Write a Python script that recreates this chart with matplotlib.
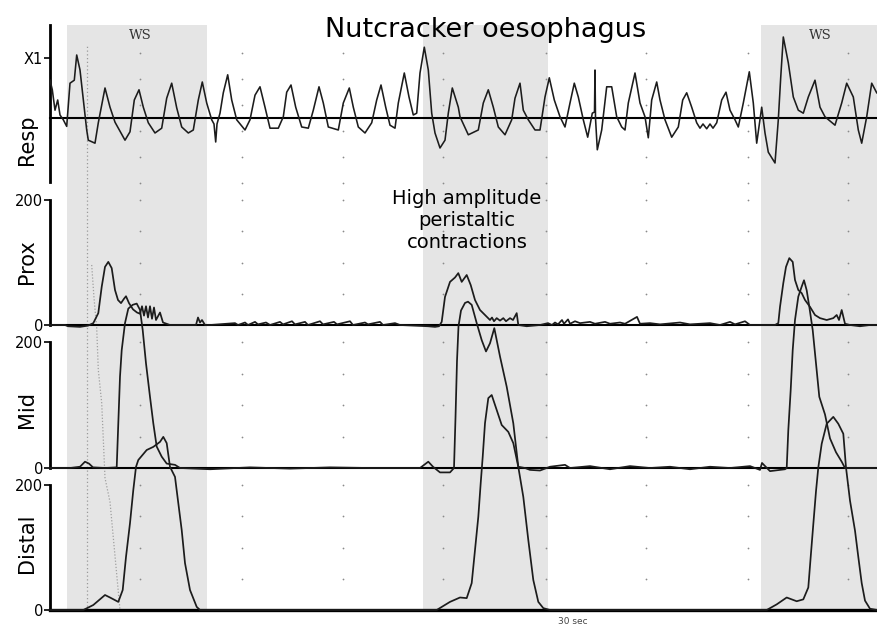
import matplotlib
matplotlib.use("Agg")
import matplotlib.pyplot as plt

# ---- time base (s) ----
T_MAX = 82.7
grid_t = [9.0, 19.2, 29.3, 39.3, 49.6, 59.6, 69.8, 79.8]

# wet swallow windows (s)
ws_start = [1.7, 37.3, 71.1]
ws_end = [15.7, 49.8, 82.7]
ws_label_t = [9.0, 77.0]
swallow_marker_t = [3.7]

# ---- respiration (relative units, X1 = 1) ----
resp_t = [0.0, 0.23, 0.5, 0.77, 1.0, 1.33, 1.67, 2.0, 2.43, 2.67, 3.0, 3.33, 3.67, 3.83, 4.5, 4.83,
          5.5, 6.0, 6.5, 7.5, 8.0, 8.43, 8.9, 9.33, 9.83, 10.5, 11.17, 11.67, 12.17, 12.67, 13.17,
          13.83, 14.33, 14.83, 15.23, 15.67, 16.17, 16.4, 16.57, 16.7, 17.0, 17.33, 17.77, 18.17,
          18.67, 19.5, 20.0, 20.5, 21.0, 21.5, 22.0, 22.83, 23.33, 23.67, 24.1, 24.57, 25.17, 25.83,
          26.33, 26.9, 27.33, 27.83, 28.83, 29.33, 29.93, 30.33, 30.83, 31.5, 32.17, 32.67, 33.1,
          33.57, 34.0, 34.5, 34.83, 35.43, 35.9, 36.33, 36.67, 37.0, 37.43, 37.83, 38.17, 38.5, 39.0,
          39.5, 39.83, 40.23, 40.83, 41.0, 41.83, 42.83, 43.33, 43.83, 44.33, 44.83, 45.5, 46.17,
          46.5, 47.0, 47.33, 47.83, 48.5, 49.0, 49.5, 49.93, 50.43, 51.0, 51.5, 52.0, 52.43, 52.83,
          53.33, 53.77, 54.23, 54.45, 54.5, 54.55, 54.73, 55.17, 55.67, 56.17, 56.67, 57.17, 57.5,
          57.83, 58.5, 59.0, 59.5, 59.83, 60.17, 60.67, 61.0, 61.5, 62.17, 62.83, 63.27, 63.67,
          64.17, 64.67, 65.0, 65.3, 65.67, 66.0, 66.3, 66.67, 67.17, 67.6, 68.0, 68.5, 68.83, 69.33,
          69.93, 70.33, 70.67, 71.17, 71.5, 71.83, 72.5, 72.83, 73.07, 73.33, 73.83, 74.33, 74.83,
          75.33, 75.83, 76.5, 77.0, 77.5, 78.0, 78.5, 79.17, 79.67, 80.33, 80.83, 81.17, 81.67,
          82.17, 82.67]
resp_v = [0.63, 0.47, 0.13, 0.3, 0.05, -0.03, -0.14, 0.58, 0.63, 1.05, 0.8, 0.3, -0.2, -0.37, -0.42, -0.08,
          0.5, 0.18, -0.07, -0.37, -0.23, 0.3, 0.47, 0.18, -0.08, -0.25, -0.17, 0.33, 0.58, 0.17, -0.15,
          -0.25, -0.2, 0.3, 0.6, 0.25, -0.03, -0.1, -0.4, -0.1, 0.08, 0.42, 0.72, 0.3,
          -0.03, -0.2, -0.03, 0.38, 0.52, 0.18, -0.17, -0.17, 0.02, 0.43, 0.55, 0.18, -0.15, -0.17,
          0.13, 0.52, 0.25, -0.15, -0.2, 0.25, 0.5, 0.18, -0.15, -0.25, -0.08, 0.3, 0.55,
          0.18, -0.12, -0.17, 0.25, 0.75, 0.35, 0.05, 0.08, 0.75, 1.18, 0.8, 0.08, -0.25, -0.5,
          -0.37, 0.08, 0.5, 0.18, 0.02, -0.28, -0.2, 0.25, 0.47, 0.18, -0.15, -0.28, -0.03,
          0.33, 0.58, 0.13, -0.03, -0.2, -0.2, 0.35, 0.67, 0.3, 0.02, -0.15, 0.25, 0.58, 0.35,
          -0.03, -0.32, 0.08, 0.1, 0.8, 0.0, -0.53, -0.2, 0.52, 0.52, 0.02, -0.15, -0.2,
          0.25, 0.75, 0.25, 0.02, -0.33, 0.3, 0.6, 0.3, -0.03, -0.32, -0.15, 0.3, 0.42,
          0.18, -0.08, -0.17, -0.1, -0.18, -0.1, -0.17, -0.08, 0.3, 0.43, 0.13, -0.03, -0.15, 0.25,
          0.77, 0.25, -0.42, 0.18, -0.25, -0.57, -0.75, -0.03, 0.67, 1.35, 0.92, 0.35, 0.13,
          0.08, 0.35, 0.63, 0.18, 0.02, -0.05, -0.12, 0.25, 0.58, 0.35, -0.2, -0.42, 0.02,
          0.58, 0.42]

# swallow artefact on the respiration channel (runs off scale)
resp_art_t = [4.17, 4.4, 4.67, 4.83, 5.17, 5.5, 6.0, 6.5, 7.0]
resp_art_v = [-2.45, -3.0, -3.5, -4.2, -4.75, -6.0, -6.4, -7.3, -8.2]

# ---- oesophageal pressures (mm Hg) ----
prox_t = [0.0, 1.5, 1.8, 3.0, 3.8, 4.33, 4.83, 5.17, 5.5, 5.83, 6.17, 6.5, 6.8, 7.1, 7.4, 7.6, 7.9,
          8.3, 8.7, 9.0, 9.2, 9.4, 9.6, 9.8, 10.0, 10.2, 10.4, 10.6, 11.0, 11.3, 12.0, 14.6, 14.8,
          15.0, 15.2, 15.5, 16.0, 18.5, 18.8, 19.5, 19.8, 20.5, 20.8, 21.6, 22.0, 23.0, 23.3, 24.2,
          24.5, 25.5, 25.8, 27.0, 27.3, 28.4, 28.7, 30.0, 30.3, 31.5, 31.8, 33.0, 33.3, 34.5, 35.0,
          37.8, 38.5, 38.9, 39.17, 39.5, 40.0, 40.5, 40.83, 41.17, 41.67, 42.07, 42.5, 43.0, 43.5,
          44.0, 44.2, 44.4, 44.67, 45.0, 45.33, 45.6, 46.0, 46.3, 46.67, 46.83, 47.67, 49.0, 49.8,
          50.2, 50.5, 50.8, 51.2, 51.4, 51.8, 52.0, 52.5, 53.0, 54.0, 54.5, 55.5, 56.0, 57.0, 57.5,
          58.7, 59.0, 60.0, 61.0, 63.0, 64.0, 66.0, 67.0, 68.0, 68.5, 69.5, 70.0, 72.5, 72.83, 73.0,
          73.33, 73.6, 73.93, 74.27, 74.5, 74.83, 75.17, 75.5, 76.0, 76.5, 77.0, 77.67, 78.33,
          78.67, 78.9, 79.17, 79.5, 80.0, 81.0, 82.0, 82.7]
prox_v = [0, 0, -2, -3, -1, 3, 19, 61, 93, 101, 91, 56, 40, 35, 42, 46, 35,
          25, 20, 18, 30, 15, 30, 12, 30, 10, 28, 8, 20, 4, 0, 0, 12,
          4, 8, 0, 0, 3, 0, 4, 0, 5, 1, 4, 0, 5, 1, 6,
          1, 5, 0, 6, 1, 5, 1, 6, 0, 4, 1, 5, 0, 3, 0,
          -2, -3, -2, 5, 45, 69, 76, 83, 69, 80, 64, 40, 24, 16,
          8, 12, 6, 11, 7, 11, 6, 11, 8, 19, 0, -2, 0, 3,
          0, 4, 1, 8, 2, 9, 2, 6, 3, 5, 2, 5, 2, 4, 2,
          13, 2, 3, 1, 4, 1, 3, 0, 5, 1, 6, 0, 0, 3, 29,
          67, 93, 107, 101, 72, 56, 51, 40, 29, 16, 11, 8, 11,
          16, 8, 24, 2, 0, -2, 0, 0]

mid_t = [0.0, 2.0, 3.0, 3.5, 3.9, 4.3, 5.5, 6.67, 6.83, 7.0, 7.17, 7.5, 7.83, 8.27, 8.67, 9.0, 9.27,
         9.6, 10.0, 10.33, 10.67, 11.17, 11.67, 12.5, 13.0, 16.0, 20.0, 24.0, 28.0, 32.0, 37.0,
         37.83, 38.3, 39.0, 40.0, 40.4, 40.55, 40.7, 40.85, 41.1, 41.5, 41.8, 42.17, 42.67, 43.17,
         43.6, 44.0, 44.43, 45.0, 45.67, 46.33, 46.83, 47.5, 48.0, 49.0, 50.0, 51.5, 52.0, 54.0,
         56.0, 58.0, 60.0, 62.0, 64.0, 66.0, 68.0, 70.0, 71.0, 71.2, 72.0, 73.5, 73.67, 73.83,
         74.07, 74.27, 74.5, 74.83, 75.17, 75.4, 75.67, 75.93, 76.27, 76.6, 76.93, 77.5, 78.0,
         78.6, 79.17, 79.5, 82.7]
mid_v = [0, 0, 2, 10, 7, 1, 0, 1, 71, 145, 187, 230, 253, 259, 261, 251, 219,
         166, 113, 71, 34, 18, 7, 5, 0, -2, 1, -1, 1, 0, 0,
         10, 2, -7, -7, 0, 80, 170, 225, 250, 262, 264, 259, 230, 203,
         185, 198, 222, 177, 129, 71, 2, 0, -3, -4, 2, 5, 0, 3,
         -2, 3, 0, 2, -2, 2, 0, 3, -3, 8, -5, -2, 0, 60,
         124, 187, 235, 272, 288, 298, 282, 256, 219, 166, 113, 85, 47,
         25, 10, 0, 0]

distal_t = [0.0, 3.33, 4.33, 5.5, 6.0, 6.83, 7.27, 7.6, 8.0, 8.33, 8.6, 8.83, 9.67, 10.33, 11.0,
            11.33, 11.67, 12.0, 12.5, 12.83, 13.17, 13.5, 14.0, 14.67, 15.0, 38.67, 40.0, 41.0,
            41.67, 42.17, 42.5, 42.83, 43.07, 43.27, 43.5, 43.83, 44.17, 44.67, 45.17, 45.83, 46.33,
            46.83, 47.33, 47.83, 48.33, 48.83, 49.33, 50.0, 71.67, 72.67, 73.67, 74.67, 75.33,
            75.83, 76.07, 76.33, 76.6, 76.83, 77.17, 77.67, 78.33, 78.83, 79.33, 79.6, 80.0, 80.5,
            80.83, 81.17, 81.5, 82.0, 82.7]
distal_v = [0, 0, 8, 24, 20, 13, 32, 85, 139, 192, 229, 240, 256, 261, 269,
            277, 267, 229, 213, 171, 128, 75, 32, 5, 0, 0, 13, 20,
            19, 43, 96, 149, 203, 245, 299, 339, 344, 320, 296, 285, 267,
            229, 181, 112, 48, 13, 3, 0, 0, 9, 20, 14, 17,
            36, 85, 137, 190, 228, 266, 298, 309, 298, 282, 228, 175, 127,
            85, 43, 15, 2, 0]

# ---- figure layout (pixels) ----
W, H = 877, 630
fig = plt.figure(figsize=(W / 100, H / 100), dpi=100)


def rect(x0, y0, x1, y1):
    return [x0 / W, 1 - y1 / H, (x1 - x0) / W, (y1 - y0) / H]


TRACE = "#1c1c1c"
DOT = "#8a8a8a"

# background: swallow windows, event marker
bg = fig.add_axes(rect(50, 25, 877, 612))
bg.set_xlim(0, T_MAX)
bg.set_ylim(0, 1)
bg.axis("off")
for s, e in zip(ws_start, ws_end):
    bg.axvspan(s, e, color="#e5e5e5", lw=0)
for m in swallow_marker_t:
    bg.plot([m, m], [0.003, 0.966], ls=(0, (1, 2)), color="#9a9a9a", lw=0.9)
for t in ws_label_t:
    bg.text(t, 0.982, "WS", ha="center", va="center", family="DejaVu Serif",
            fontsize=9.5, color="#333333")

panels = [
    ("Resp", rect(50, 25, 877, 182), (-1.067, 1.55), [1], ["X1"], 140),
    ("Prox", rect(50, 200, 877, 325), (0, 200), [0, 200], ["0", "200"], 262),
    ("Mid", rect(50, 342, 877, 468), (0, 200), [0, 200], ["0", "200"], 410),
    ("Distal", rect(50, 485, 877, 610), (0, 200), [0, 200], ["0", "200"], 543),
]
dot_levels = {
    "Resp": [-1.08, -0.65, -0.22, 0.22, 0.65, 1.08],
    "Prox": [50, 100, 150, 200],
    "Mid": [50, 100, 150, 200],
    "Distal": [50, 100, 150, 200],
}
series = {
    "Resp": (resp_t, resp_v),
    "Prox": (prox_t, prox_v),
    "Mid": (mid_t, mid_v),
    "Distal": (distal_t, distal_v),
}

axes = {}
for name, r, ylim, ticks, labels, label_y in panels:
    ax = fig.add_axes(r)
    ax.set_facecolor("none")
    ax.set_xlim(0, T_MAX)
    ax.set_ylim(*ylim)
    for side in ("top", "right", "bottom"):
        ax.spines[side].set_visible(False)
    ax.spines["left"].set_linewidth(2.0)
    ax.set_xticks([])
    ax.set_yticks(ticks)
    ax.set_yticklabels(labels, fontsize=10.5)
    ax.tick_params(axis="y", length=4, width=1.2, pad=1)
    gx = [x for x in grid_t for _ in dot_levels[name]]
    gy = [y for _ in grid_t for y in dot_levels[name]]
    ax.scatter(gx, gy, s=1.6, color=DOT, lw=0, zorder=1, clip_on=False)
    ax.axhline(0, color="black", lw=2.4 if name == "Distal" else 1.5, zorder=2, clip_on=False)
    fig.text(27 / W, 1 - label_y / H, name, rotation=90, ha="center", va="center", fontsize=15)
    axes[name] = ax

axes["Resp"].plot(resp_art_t, resp_art_v, ls=(0, (1, 1.5)), color="#a0a0a0", lw=0.9,
                  clip_on=False, zorder=3)
for name, (t, v) in series.items():
    axes[name].plot(t, v, color=TRACE, lw=1.15 if name == "Resp" else 1.25,
                    clip_on=False, zorder=4)

fig.text(486 / W, 1 - 37 / H, "Nutcracker oesophagus", ha="center", va="baseline", fontsize=19.5)
fig.text(467 / W, 1 - 220 / H, "High amplitude\nperistaltic\ncontractions", ha="center",
         va="center", fontsize=14, linespacing=1.2)
fig.text(573 / W, 1 - 621 / H, "30 sec", ha="center", va="center", fontsize=6.5, color="#444444")

fig.savefig("out.png", dpi=100)
